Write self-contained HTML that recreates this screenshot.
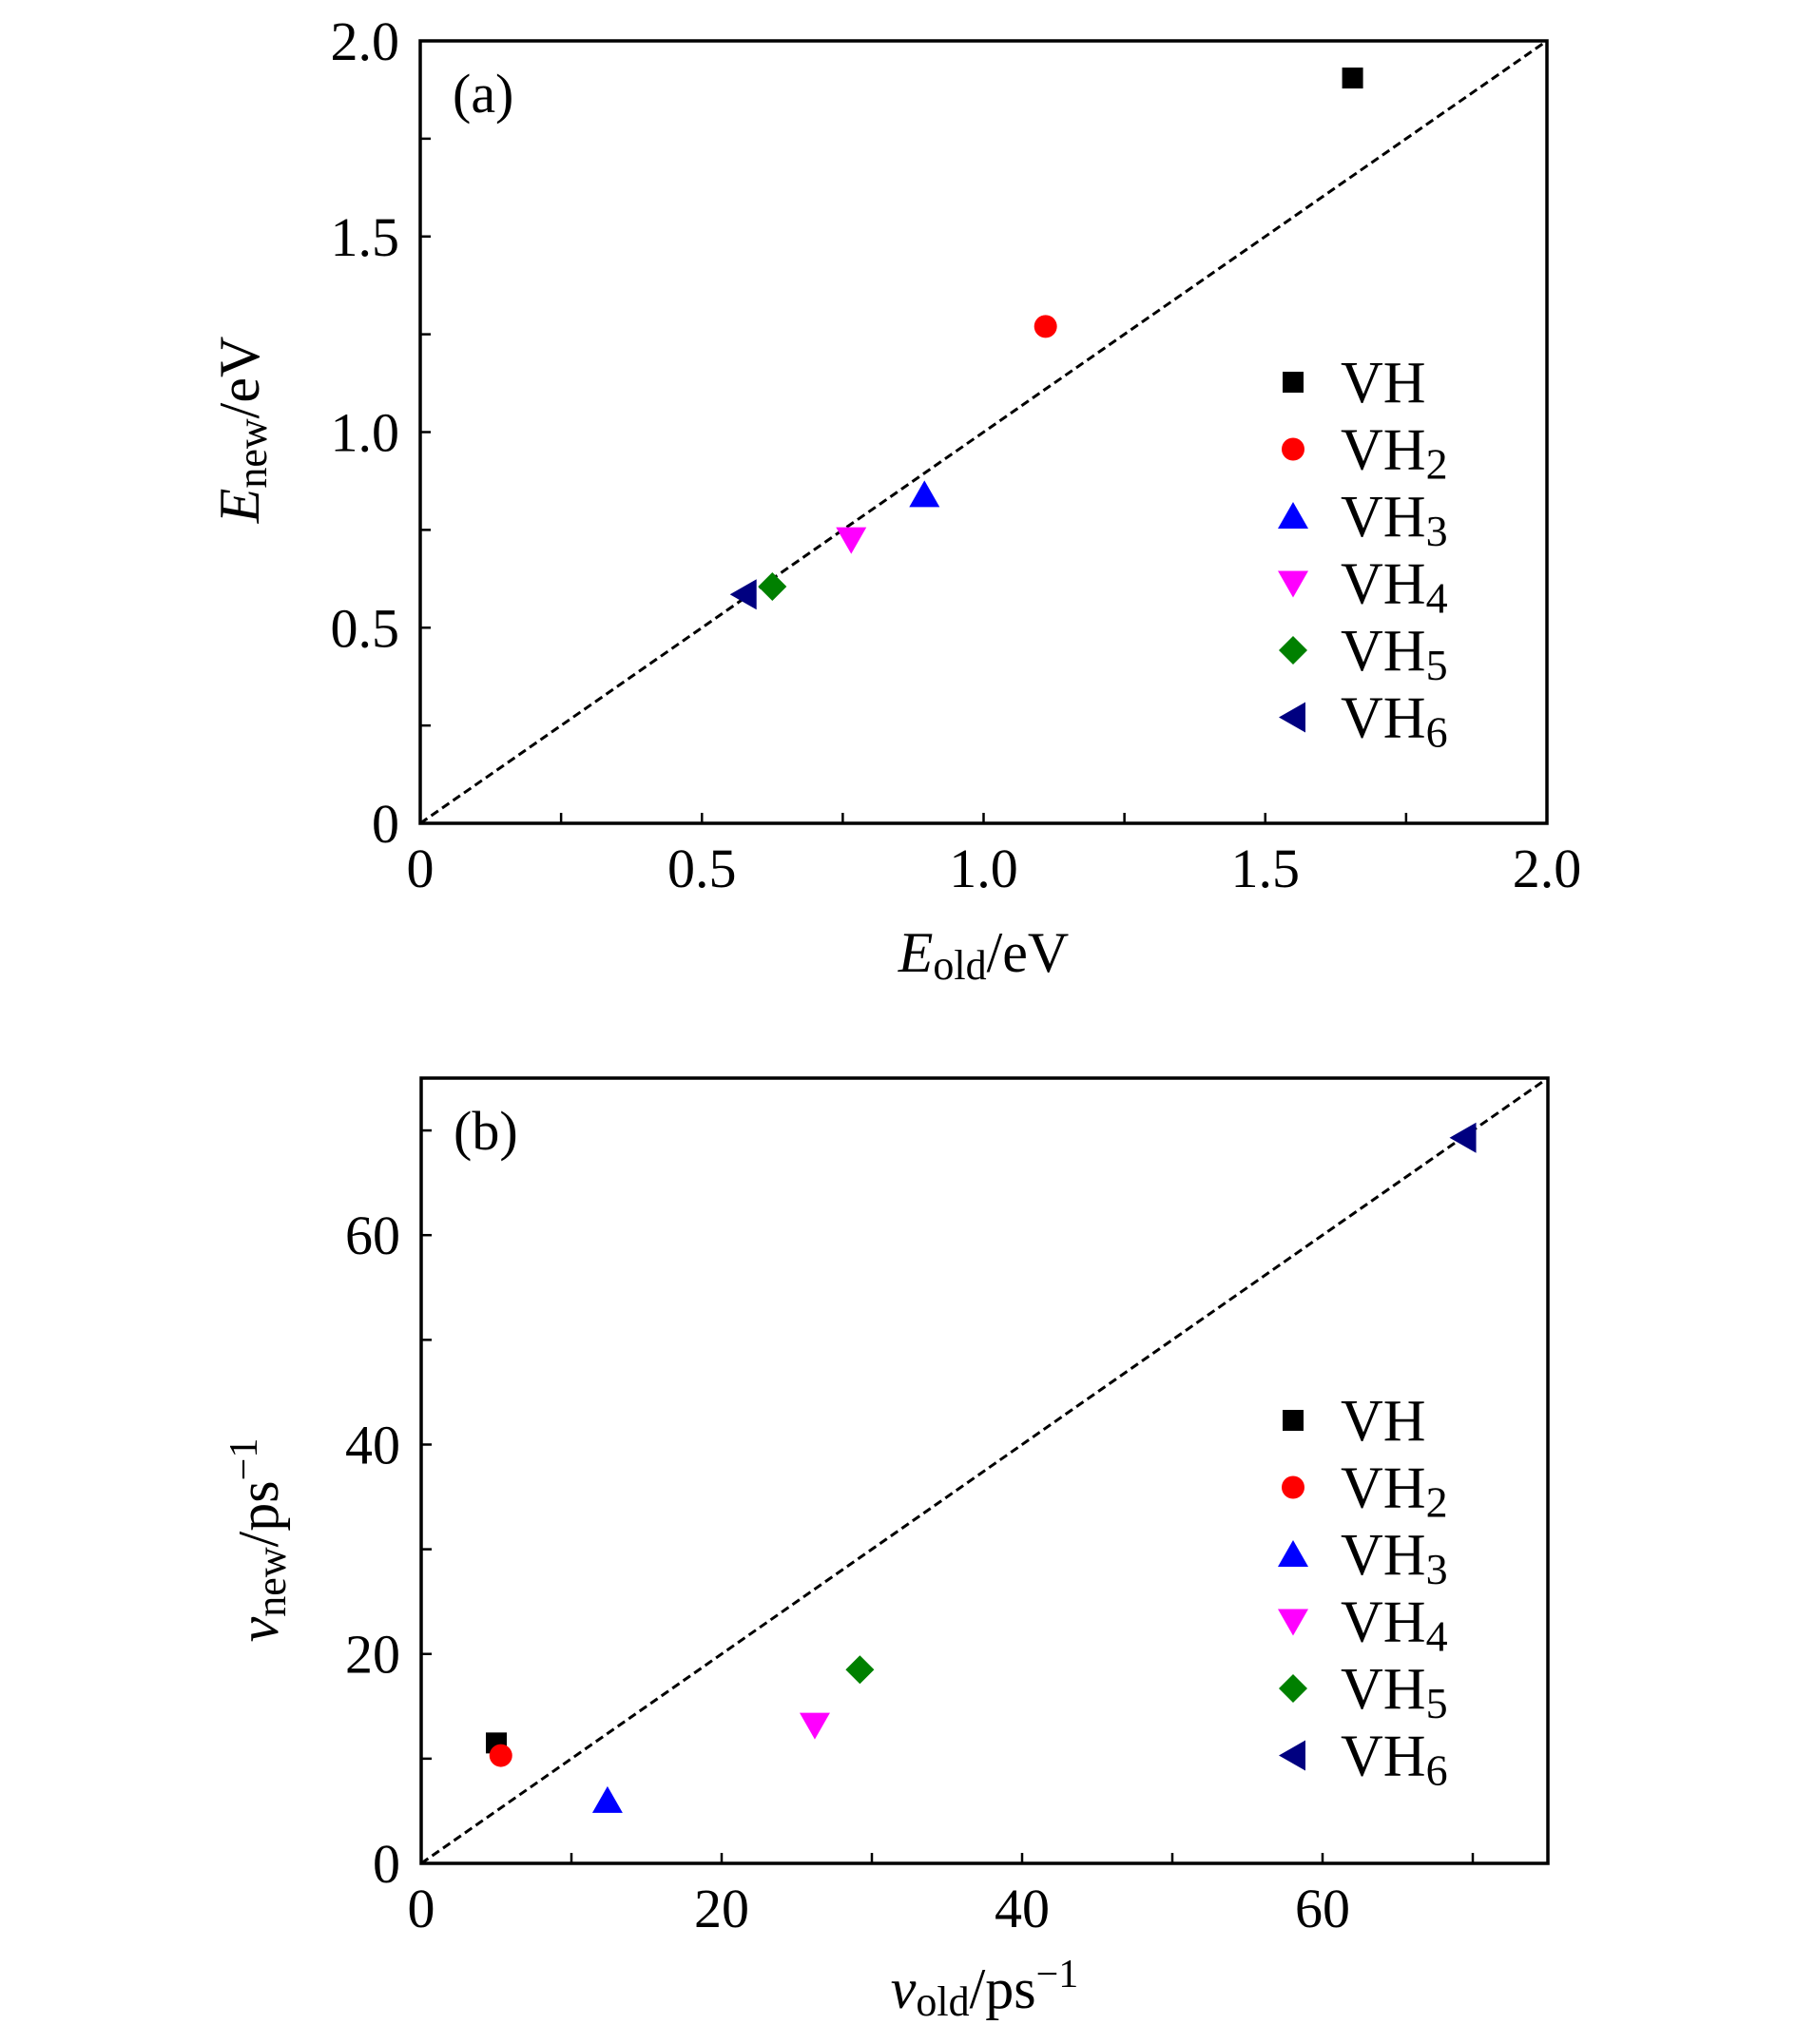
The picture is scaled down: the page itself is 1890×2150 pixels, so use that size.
<!DOCTYPE html>
<html><head><meta charset="utf-8"><style>
body{margin:0;background:#fff}
svg{display:block}
text{font-family:"Liberation Serif",serif;fill:#000}
</style></head><body>
<svg id="chart" width="1890" height="2150" viewBox="0 0 1890 2150" xmlns="http://www.w3.org/2000/svg"></svg>
<script>
const seriesNames = ["VH","VH2","VH3","VH4","VH5","VH6"];
const seriesColors = ["#000000","#ff0000","#0000ff","#ff00ff","#008000","#000080"];
const seriesShapes = ["square","circle","triUp","triDown","diamond","triLeft"];
const energyOld = [1.655,1.11,0.895,0.765,0.625,0.575];
const energyNew = [1.905,1.27,0.84,0.725,0.605,0.585];
const velOld = [5.0,5.3,12.4,26.2,29.2,69.4];
const velNew = [11.5,10.3,6.0,13.2,18.5,69.3];
const aMajorTicks = [0,0.5,1.0,1.5,2.0];
const aTickLabels = ["0","0.5","1.0","1.5","2.0"];
const bMajorTicks = [0,20,40,60];
const bTickLabels = ["0","20","40","60"];

const NS="http://www.w3.org/2000/svg";
const svg=document.getElementById('chart');
function mk(tag,attrs,parent){const e=document.createElementNS(NS,tag);for(const k in attrs)e.setAttribute(k,attrs[k]);(parent||svg).appendChild(e);return e;}

function marker(g,shape,cx,cy,color){
  let e;
  if(shape==="square") e=mk('rect',{x:cx-11,y:cy-11,width:22,height:22,fill:color},g);
  else if(shape==="circle") e=mk('circle',{cx:cx,cy:cy,r:12,fill:color},g);
  else if(shape==="triUp") e=mk('polygon',{points:`${cx},${cy-15} ${cx+16},${cy+13} ${cx-16},${cy+13}`,fill:color},g);
  else if(shape==="triDown") e=mk('polygon',{points:`${cx},${cy+15} ${cx+16},${cy-13} ${cx-16},${cy-13}`,fill:color},g);
  else if(shape==="diamond") e=mk('polygon',{points:`${cx},${cy-15} ${cx+15},${cy} ${cx},${cy+15} ${cx-15},${cy}`,fill:color},g);
  else e=mk('polygon',{points:`${cx-15},${cy} ${cx+13},${cy-16} ${cx+13},${cy+16}`,fill:color},g);
  return e;
}

function panel(cfg){
  const {L,R,T,B,max,minorStep,majors,labels,xs,ys,name,tag,legendY,xTitle,yTitle}=cfg;
  const g=mk('g',{});
  
  
  const sx=v=>L+(v/max)*(R-L), sy=v=>B-(v/max)*(B-T);
  const d=mk('line',{x1:sx(0),y1:sy(0),x2:sx(max),y2:sy(max),stroke:'#000','stroke-width':3,'stroke-dasharray':'9,5'},g);
  
  
  for(let v=minorStep;v<max-1e-9;v+=minorStep){
    const tx=mk('line',{x1:sx(v),y1:B,x2:sx(v),y2:B-11,stroke:'#000','stroke-width':2.5},g);
    
    
    const ty=mk('line',{x1:L,y1:sy(v),x2:L+11,y2:sy(v),stroke:'#000','stroke-width':2.5},g);
    
    
  }
  majors.forEach((v,i)=>{
    const xl=mk('text',{x:sx(v),y:B+67,'font-size':58,'text-anchor':'middle'},g);
    xl.textContent=labels[i];
    
    
    const yl=mk('text',{x:L-22,y:sy(v)+20,'font-size':58,'text-anchor':'end'},g);
    yl.textContent=labels[i];
    
    
  });
  const fr=mk('rect',{x:L,y:T,width:R-L,height:B-T,fill:'none',stroke:'#000','stroke-width':3.5},g);
  
  
  xs.forEach((v,i)=>{
    const m=marker(g,seriesShapes[i],sx(v),sy(ys[i]),seriesColors[i]);
    
    
  });
  const t=mk('text',{x:L+34,y:T+75,'font-size':58},g);
  t.textContent=tag;
  
  
  const lg=mk('g',{},g);
  
  
  seriesNames.forEach((n,i)=>{
    const cy=legendY+i*70.5;
    const m=marker(lg,seriesShapes[i],1360,cy,seriesColors[i]);
    
    
    const tx=mk('text',{x:1410,y:cy+21,'font-size':62},lg);
    
    
    tx.appendChild(document.createTextNode('VH'));
    if(n.length>2){const s=mk('tspan',{'font-size':46,dy:10},tx);s.textContent=n.slice(2);}
  });
  const xt=mk('text',{x:(L+R)/2,y:xTitle.y,'font-size':60,'text-anchor':'middle'},g);
  xt.innerHTML=xTitle.html;
  
  
  const yt=mk('text',{x:0,y:0,'font-size':60,'text-anchor':'middle',transform:`translate(${yTitle.x},${yTitle.y}) rotate(-90)`},g);
  yt.innerHTML=yTitle.html;
  
  
}

panel({L:442,R:1627,T:43,B:866,max:2,minorStep:0.25,majors:aMajorTicks,labels:aTickLabels,
  xs:energyOld,ys:energyNew,name:'panel-a',tag:'(a)',legendY:402,
  xTitle:{y:1022,html:'<tspan font-style="italic">E</tspan><tspan font-size="44" dy="8">old</tspan><tspan dy="-8">/eV</tspan>'},
  yTitle:{x:272,y:452,html:'<tspan font-style="italic">E</tspan><tspan font-size="44" dy="8">new</tspan><tspan dy="-8">/eV</tspan>'}});
panel({L:443,R:1628,T:1134,B:1960,max:75,minorStep:10,majors:bMajorTicks,labels:bTickLabels,
  xs:velOld,ys:velNew,name:'panel-b',tag:'(b)',legendY:1494,
  xTitle:{y:2112,html:'<tspan font-style="italic">v</tspan><tspan font-size="44" dy="8">old</tspan><tspan dy="-8">/ps</tspan><tspan font-size="42" dy="-22">−1</tspan>'},
  yTitle:{x:292,y:1620,html:'<tspan font-style="italic">v</tspan><tspan font-size="44" dy="8">new</tspan><tspan dy="-8">/ps</tspan><tspan font-size="42" dy="-22">−1</tspan>'}});
</script>
</body></html>
